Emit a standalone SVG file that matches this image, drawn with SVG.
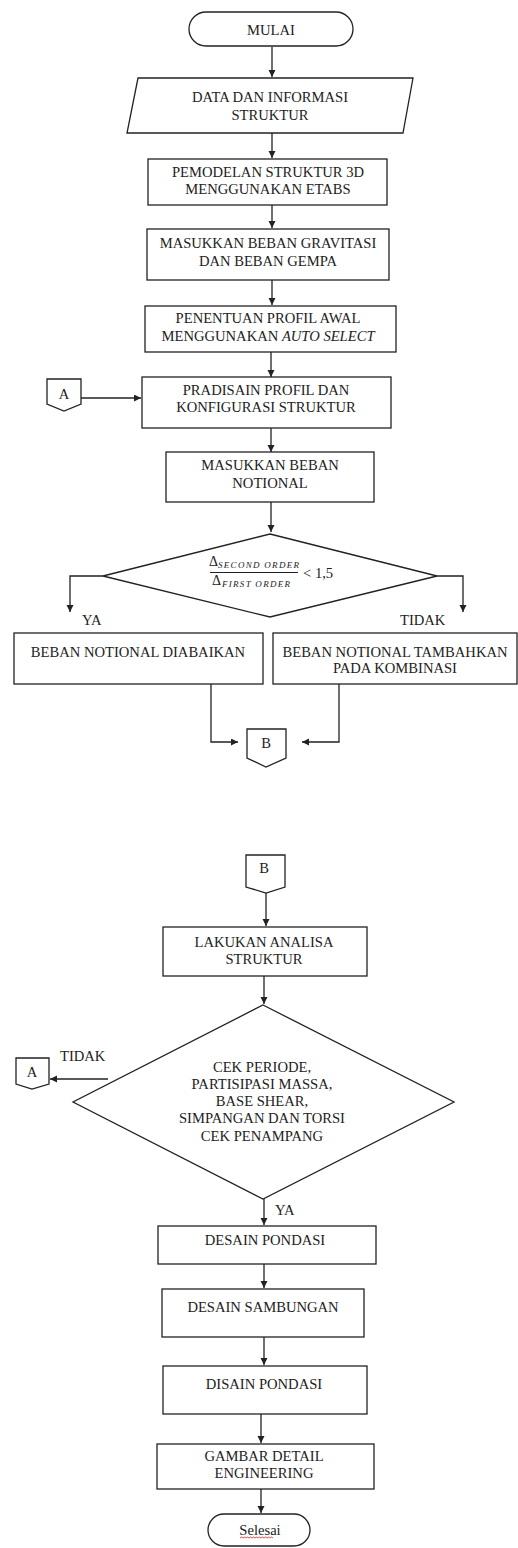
<svg xmlns="http://www.w3.org/2000/svg" width="518" height="1548" viewBox="0 0 518 1548">
<style>
.s{fill:#fff;stroke:#222;stroke-width:1.3}
.t{font-family:"Liberation Serif","Times New Roman",serif;font-size:14.6px;fill:#222;text-anchor:middle}
.l{font-family:"Liberation Serif","Times New Roman",serif;font-size:14.6px;fill:#222}
.c{fill:none;stroke:#222;stroke-width:1.3}
.m{font-family:"Liberation Serif","Times New Roman",serif;font-size:14px;fill:#222}
.sub{font-family:"Liberation Serif","Times New Roman",serif;font-size:9px;font-style:italic;fill:#222}
</style>
<defs>
<marker id="ar" markerUnits="userSpaceOnUse" markerWidth="8" markerHeight="8" refX="7" refY="3.5" orient="auto">
<path d="M0,0 L7,3.5 L0,7 z" fill="#222"/>
</marker>
</defs>
<rect width="518" height="1548" fill="#fff"/>
<g id="connectors">
<path class="c" marker-end="url(#ar)" d="M272,47 V77"/>
<path class="c" marker-end="url(#ar)" d="M272,133 V158"/>
<path class="c" marker-end="url(#ar)" d="M272,205 V228"/>
<path class="c" marker-end="url(#ar)" d="M272,280 V305"/>
<path class="c" marker-end="url(#ar)" d="M271,352 V377"/>
<path class="c" marker-end="url(#ar)" d="M81,398 H141"/>
<path class="c" marker-end="url(#ar)" d="M271,428 V452"/>
<path class="c" marker-end="url(#ar)" d="M271,502 V532"/>
<path class="c" marker-end="url(#ar)" d="M103,576 H70 V612"/>
<path class="c" marker-end="url(#ar)" d="M437,576 H463 V612"/>
<path class="c" marker-end="url(#ar)" d="M211,684 V742 H238"/>
<path class="c" marker-end="url(#ar)" d="M339,684 V742 H302"/>
<path class="c" marker-end="url(#ar)" d="M266,893 V926"/>
<path class="c" marker-end="url(#ar)" d="M264,976 V1004"/>
<path class="c" marker-end="url(#ar)" d="M108,1079 H50"/>
<path class="c" marker-end="url(#ar)" d="M264,1199 V1225"/>
<path class="c" marker-end="url(#ar)" d="M264,1264 V1288"/>
<path class="c" marker-end="url(#ar)" d="M264,1337 V1365"/>
<path class="c" marker-end="url(#ar)" d="M261,1414 V1443"/>
<path class="c" marker-end="url(#ar)" d="M261,1489 V1513"/>
</g>
<g id="mulai">
<rect class="s" x="189" y="12" width="164" height="34" rx="17"/>
<text class="t" x="271" y="35">MULAI</text>
</g>
<g id="data">
<polygon class="s" points="138,78 413,78 403,133 127,133"/>
<text class="t" x="270" y="102">DATA DAN INFORMASI</text>
<text class="t" x="270" y="120">STRUKTUR</text>
</g>
<g id="pemodelan">
<rect class="s" x="148" y="159" width="239" height="46"/>
<text class="t" x="268" y="177">PEMODELAN STRUKTUR 3D</text>
<text class="t" x="268" y="194">MENGGUNAKAN ETABS</text>
</g>
<g id="gravitasi">
<rect class="s" x="147" y="229" width="242" height="51"/>
<text class="t" x="268" y="248">MASUKKAN BEBAN GRAVITASI</text>
<text class="t" x="268" y="266">DAN BEBAN GEMPA</text>
</g>
<g id="penentuan">
<rect class="s" x="145" y="306" width="251" height="46"/>
<text class="t" x="268" y="323">PENENTUAN PROFIL AWAL</text>
<text class="t" x="268" y="341">MENGGUNAKAN <tspan font-style="italic">AUTO SELECT</tspan></text>
</g>
<g id="connA1">
<polygon class="s" points="47,379 81,379 81,404 64,411 47,404"/>
<text class="t" x="64" y="399">A</text>
</g>
<g id="pradisain">
<rect class="s" x="142" y="377" width="249" height="51"/>
<text class="t" x="266" y="395">PRADISAIN PROFIL DAN</text>
<text class="t" x="266" y="412">KONFIGURASI STRUKTUR</text>
</g>
<g id="notional">
<rect class="s" x="166" y="452" width="208" height="50"/>
<text class="t" x="270" y="470">MASUKKAN BEBAN</text>
<text class="t" x="270" y="488">NOTIONAL</text>
</g>
<g id="decision1">
<polygon class="s" points="270,534 437,576 270,617 103,576"/>
<text class="m" x="209" y="566">Δ</text>
<text class="sub" x="218" y="568" textLength="81" lengthAdjust="spacing">SECOND ORDER</text>
<line x1="210" y1="572.5" x2="298" y2="572.5" stroke="#222" stroke-width="1"/>
<text class="m" x="212" y="585">Δ</text>
<text class="sub" x="222" y="587" textLength="68" lengthAdjust="spacing">FIRST ORDER</text>
<text class="l" x="303" y="578">&lt; 1,5</text>
</g>
<g id="labels1">
<text class="l" x="82" y="625">YA</text>
<text class="l" x="400" y="625">TIDAK</text>
</g>
<g id="diabaikan">
<rect class="s" x="14" y="633" width="249" height="51"/>
<text class="t" x="138" y="657">BEBAN NOTIONAL DIABAIKAN</text>
</g>
<g id="tambahkan">
<rect class="s" x="273" y="633" width="244" height="51"/>
<text class="t" x="395" y="657">BEBAN NOTIONAL TAMBAHKAN</text>
<text class="t" x="395" y="673">PADA KOMBINASI</text>
</g>
<g id="connB1">
<polygon class="s" points="247,729 286,729 286,758 266,767 247,758"/>
<text class="t" x="266" y="748">B</text>
</g>
<g id="connB2">
<polygon class="s" points="246,855 285,855 285,887 266,893 246,887"/>
<text class="t" x="264" y="873">B</text>
</g>
<g id="analisa">
<rect class="s" x="163" y="927" width="204" height="49"/>
<text class="t" x="264" y="947">LAKUKAN ANALISA</text>
<text class="t" x="264" y="964">STRUKTUR</text>
</g>
<g id="decision2">
<polygon class="s" points="263,1005 454,1102 263,1199 73,1102"/>
<text class="t" x="262" y="1072">CEK PERIODE,</text>
<text class="t" x="262" y="1089">PARTISIPASI MASSA,</text>
<text class="t" x="262" y="1106">BASE SHEAR,</text>
<text class="t" x="262" y="1123">SIMPANGAN DAN TORSI</text>
<text class="t" x="262" y="1141">CEK PENAMPANG</text>
</g>
<g id="labels2">
<text class="l" x="60" y="1061">TIDAK</text>
<text class="l" x="275" y="1215">YA</text>
</g>
<g id="connA2">
<polygon class="s" points="16,1058 49,1058 49,1084 32,1089 16,1084"/>
<text class="t" x="32" y="1077">A</text>
</g>
<g id="pondasi1">
<rect class="s" x="158" y="1226" width="218" height="38"/>
<text class="t" x="265" y="1245">DESAIN PONDASI</text>
</g>
<g id="sambungan">
<rect class="s" x="162" y="1289" width="202" height="48"/>
<text class="t" x="263" y="1312">DESAIN SAMBUNGAN</text>
</g>
<g id="pondasi2">
<rect class="s" x="163" y="1366" width="204" height="48"/>
<text class="t" x="264" y="1389">DISAIN PONDASI</text>
</g>
<g id="gambar">
<rect class="s" x="157" y="1444" width="217" height="45"/>
<text class="t" x="264" y="1461">GAMBAR DETAIL</text>
<text class="t" x="264" y="1478">ENGINEERING</text>
</g>
<g id="selesai">
<rect class="s" x="208" y="1514" width="102" height="32" rx="16"/>
<text class="t" x="260" y="1535">Selesai</text>
<path d="M240,1538 l1.5,-1 l1.5,1 l1.5,-1 l1.5,1 l1.5,-1 l1.5,1 l1.5,-1 l1.5,1 l1.5,-1 l1.5,1 l1.5,-1 l1.5,1 l1.5,-1 l1.5,1 l1.5,-1 l1.5,1 l1.5,-1 l1.5,1 l1.5,-1 l1.5,1 l1.5,-1 l1.5,1" fill="none" stroke="#d22" stroke-width="0.8"/>
</g>
</svg>
